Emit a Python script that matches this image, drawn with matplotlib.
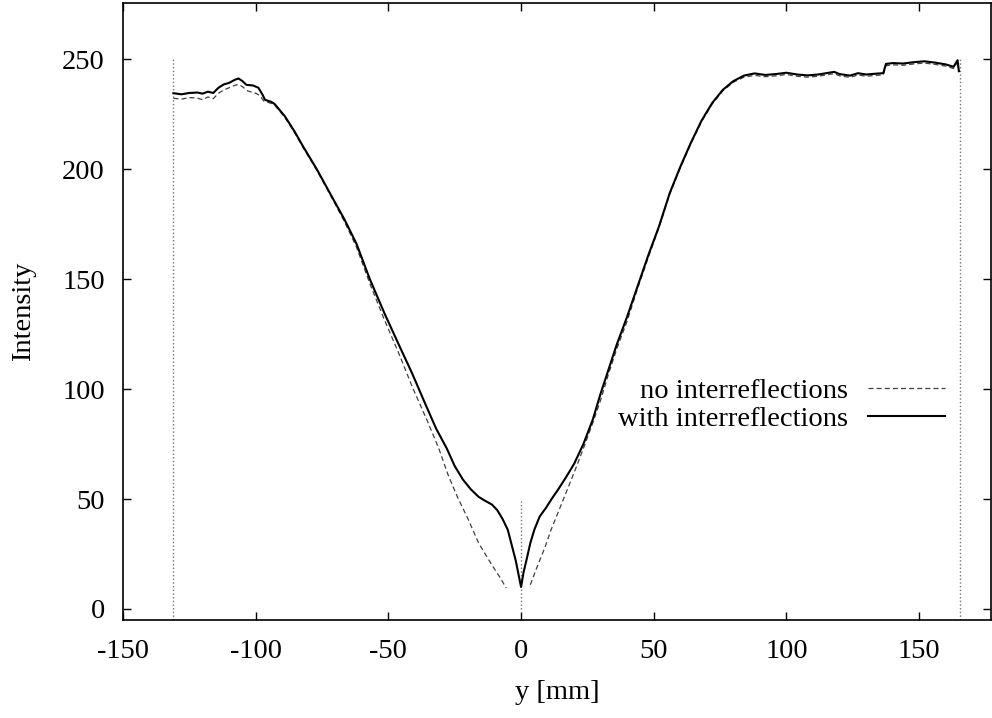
import matplotlib.pyplot as plt

# profile with interreflections (solid)
withX = [-131, -128, -125, -122, -120, -118, -116, -114, -112, -110, -108, -106.5, -105, -103.5, -101, -99, -97.5, -96.5,
         -94, -92.8, -89, -85.3, -82, -77, -72, -66.5, -62, -57, -51.5, -46, -41, -36, -32, -28, -25, -22, -19, -16, -14,
         -11, -9, -7, -5, -3.5, -2, -1, 0, 1, 2, 3.5, 5, 7, 9.4, 11.5, 13.8, 17, 20, 23.5, 27, 30, 33, 36, 40, 44, 48, 52,
         56, 60, 64, 68, 72, 76, 80, 84, 88, 92, 96, 100, 104, 108, 112, 116, 118, 120, 124, 127, 130, 134, 136.5, 137.5,
         140, 144, 148, 152, 156, 160, 163, 164.5, 165]
withY = [234.5, 234.0, 234.6, 234.8, 234.3, 235.2, 234.6, 237.0, 238.5, 239.2, 240.5, 241.2, 240.0, 238.3, 238.0, 237.0,
         234.0, 231.5, 230.5, 229.5, 224, 217, 210, 200, 189, 177, 166, 150, 134.5, 120, 107, 93, 82, 73, 65, 59, 54.5,
         51, 49.5, 47.5, 45, 41, 36, 29, 22, 16, 10, 17, 22, 30, 36, 42, 46, 50, 54, 60, 66, 75, 86, 98, 109, 120, 133,
         147, 161, 174, 189, 201, 212, 222, 230, 236, 240, 242.5, 243.5, 242.8, 243.2, 243.8, 243.0, 242.6, 243.0, 243.8,
         244.2, 243.2, 242.5, 243.6, 243.0, 243.4, 243.6, 247.8, 248.2, 248.0, 248.6, 249.0, 248.4, 247.6, 246.5, 249.5,
         244.5]

# profile without interreflections (dashed), left and right branch
noLeftX = [-131, -128, -125, -122, -120, -118, -116, -114, -112, -110, -108, -106.5, -105, -103, -100, -98.5, -97, -94,
           -92.8, -89, -85.3, -82, -77, -72, -66.5, -62, -57, -51.5, -46, -41, -35.5, -31, -27.5, -24, -20, -16, -11, -8,
           -5.6]
noLeftY = [232.2, 231.8, 232.5, 232.3, 231.5, 232.8, 232.0, 234.5, 236.0, 237.0, 238.0, 238.5, 237.5, 235.5, 234.5, 233.5,
           231.0, 229.8, 229.0, 223.5, 216.5, 209.5, 199.5, 188.5, 176, 164.5, 148, 131.5, 116, 101, 86, 73, 61, 51, 41,
           30, 20, 14.5, 9.5]
noRightX = [3.5, 6, 9, 11.3, 14, 17, 20, 23.5, 27, 30, 33, 36, 40, 44, 48, 52, 56, 60, 64, 68, 72, 76, 80, 84, 88, 92, 96,
            100, 104, 108, 112, 116, 118, 120, 124, 127, 130, 134, 136.5, 137.5, 140, 144, 148, 152, 156, 160, 163, 164.5, 165]
noRightY = [11, 19, 28, 36, 44, 53, 62, 73, 84.5, 95, 107, 118, 131, 146, 160, 173.5, 188.5, 200.5, 211.5, 221.5, 229.5,
            235.5, 239.5, 241.8, 242.6, 242.0, 242.4, 243.0, 242.2, 241.8, 242.2, 243.0, 243.4, 242.4, 241.7, 242.8, 242.2,
            242.6, 242.8, 247.0, 247.4, 247.2, 247.8, 248.2, 247.6, 246.8, 245.7, 248.7, 244.0]

plt.rcParams['font.family'] = 'Liberation Serif'
plt.rcParams['font.size'] = 20.5
plt.rcParams['axes.unicode_minus'] = False

fig = plt.figure(figsize=(9.92, 7.18), dpi=100)
ax = fig.add_axes([0.124, 0.1365, 0.875, 0.8593])

# dotted markers at the object borders and the centre
ax.vlines([-131, 165.5], -5, 250, colors='0.45', linestyles=':', linewidth=1)
ax.vlines([0], 0, 50, colors='0.45', linestyles=':', linewidth=1)

ax.plot(noLeftX, noLeftY, color='0.25', linestyle=(0, (4, 2.5)), linewidth=0.9, label='no interreflections')
ax.plot(noRightX, noRightY, color='0.25', linestyle=(0, (4, 2.5)), linewidth=0.9)
ax.plot(withX, withY, color='black', linewidth=1.5, label='with interreflections')

ax.set_xlim(-150, 177.1)
ax.set_ylim(-5, 275.5)
ax.set_xticks([-150, -100, -50, 0, 50, 100, 150])
ax.set_yticks([0, 50, 100, 150, 200, 250])
ax.tick_params(direction='in', length=6, width=1, top=True, right=True)
ax.tick_params(axis='x', pad=14)
ax.tick_params(axis='y', pad=13)
for s in ax.spines.values():
    s.set_linewidth(1.2)

ax.set_xlabel('y [mm]', labelpad=11)
ax.set_ylabel('Intensity', labelpad=19)

ax.legend(loc='center right', bbox_to_anchor=(0.947, 0.3485), frameon=False, markerfirst=False,
          handlelength=2.7, handletextpad=0.7, borderpad=0, borderaxespad=0, labelspacing=0.05)

plt.savefig('out.png')
